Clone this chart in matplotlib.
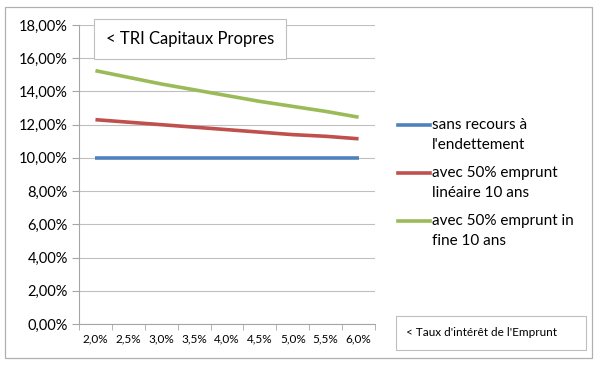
import matplotlib.pyplot as plt
from matplotlib.patches import Rectangle
from matplotlib.lines import Line2D
from matplotlib.ticker import FuncFormatter

plt.rcParams['font.family'] = ['Lato', 'DejaVu Sans']

taux = ['2,0%', '2,5%', '3,0%', '3,5%', '4,0%', '4,5%', '5,0%', '5,5%', '6,0%']
sans_recours = [10.0, 10.0, 10.0, 10.0, 10.0, 10.0, 10.0, 10.0, 10.0]
lineaire = [12.3, 12.15, 12.0, 11.85, 11.7, 11.55, 11.4, 11.3, 11.15]
in_fine = [15.25, 14.85, 14.45, 14.1, 13.75, 13.4, 13.1, 12.8, 12.45]
labels = ["sans recours à\nl'endettement", "avec 50% emprunt\nlinéaire 10 ans",
          "avec 50% emprunt in\nfine 10 ans"]
colors = ['#4F81BD', '#C0504D', '#9BBB59']

fig = plt.figure(figsize=(6, 3.67), dpi=100)
fig.patches.append(Rectangle((5 / 600, 1 - 358 / 367), 587 / 600, 351 / 367,
                             transform=fig.transFigure, fill=False,
                             edgecolor='#B0B0B0', lw=0.9))
ax = fig.add_axes([79 / 600, 1 - 324 / 367, 296 / 600, 299 / 367])

x = list(range(len(taux)))
for ys, c in zip([sans_recours, lineaire, in_fine], colors):
    ax.plot(x, ys, color=c, lw=2.6, solid_capstyle='butt')

ax.set_xlim(-0.5, len(taux) - 0.5)
ax.set_ylim(0, 18)
ax.set_yticks(range(0, 19, 2))
ax.yaxis.set_major_formatter(FuncFormatter(lambda v, p: f'{v:.2f}%'.replace('.', ',')))
ax.set_xticks(x)
ax.set_xticklabels(taux, fontsize=8.5)
ax.set_xticks([i - 0.5 for i in range(len(taux) + 1)], minor=True)
ax.tick_params(axis='x', which='major', length=0, pad=7)
ax.tick_params(axis='x', which='minor', length=4, color='#A6A6A6')
ax.tick_params(axis='y', length=5, color='#A6A6A6', labelsize=10.5, pad=3)
ax.grid(axis='y', color='#BFBFBF', lw=0.8)
ax.set_axisbelow(True)
for s in ['top', 'right']:
    ax.spines[s].set_visible(False)
for s in ['left', 'bottom']:
    ax.spines[s].set_color('#A6A6A6')

# title box
fig.text(106 / 600, 1 - 39 / 367, '< TRI Capitaux Propres', fontsize=12, va='center',
         bbox=dict(boxstyle='square,pad=0.7', fc='white', ec='#BFBFBF', lw=0.8))

# legend drawn by hand
for i, (lab, c) in enumerate(zip(labels, colors)):
    yy = 1 - (125 + 48 * i) / 367
    fig.lines.append(Line2D([398 / 600, 430 / 600], [yy, yy], color=c, lw=2.6,
                            transform=fig.transFigure))
    fig.text(432 / 600, yy + 7 / 367, lab, fontsize=11, va='top', linespacing=1.55)

fig.patches.append(Rectangle((396 / 600, 1 - 350 / 367), 190 / 600, 34 / 367,
                             transform=fig.transFigure, fill=True, fc='white',
                             edgecolor='#BFBFBF', lw=0.8))
fig.text(406 / 600, 1 - 333 / 367, "< Taux d'intérêt de l'Emprunt", fontsize=8.5, va='center')

fig.savefig('out.png', dpi=100)
